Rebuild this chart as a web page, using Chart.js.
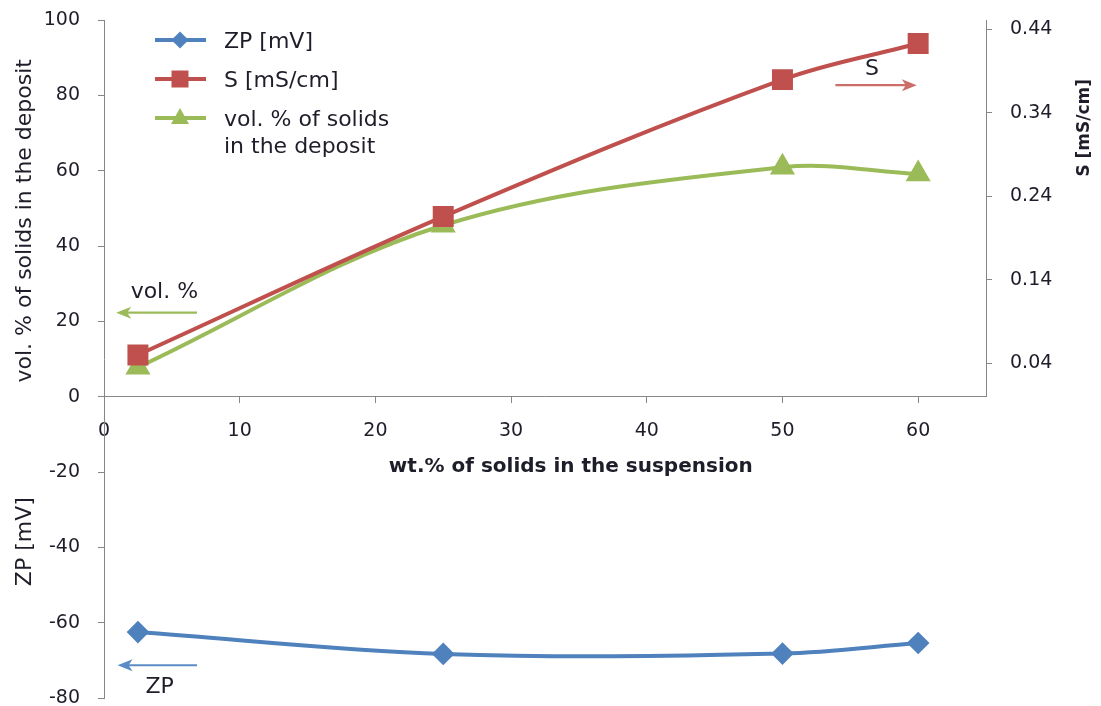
<!DOCTYPE html>
<html>
<head>
<meta charset="utf-8">
<script src="https://cdn.jsdelivr.net/npm/chart.js@4.4.0/dist/chart.umd.min.js"></script>
<style>
  html, body { margin: 0; padding: 0; background: #fff; }
  #wrap { width: 1101px; height: 706px; }
</style>
</head>
<body>
<div id="wrap"><canvas id="chart" width="1101" height="706"></canvas></div>
<script>
// wt.% of solids in the suspension
const wtPercent = [2.5, 25, 50, 60];
const zpValues = [-62.5, -68.3, -68.2, -65.4];        // ZP [mV], left axis
const sValues = [0.050, 0.2156, 0.3796, 0.4228];      // S [mS/cm], right axis
const volValues = [7.8, 45.5, 60.9, 59.1];            // vol. % of solids in the deposit

const xTicks = [0, 10, 20, 30, 40, 50, 60];
const leftTicks = [-80, -60, -40, -20, 0, 20, 40, 60, 80, 100];
const rightTicks = [0.04, 0.14, 0.24, 0.34, 0.44];

const BLUE = '#4f81bd';
const RED = '#c0504d';
const GREEN = '#9bbb59';
const AXIS = '#868686';
const TXT = '#1e1e2a';
const FONT = "'DejaVu Sans', 'Liberation Sans', sans-serif";

// arrow hints drawn in data units (x, left y)
const arrows = [
    { label: 'S', color: '#cd6d6a', from: [53.9, 82.7], to: [59.9, 82.7], text: [56.6, 86.8] },
    { label: 'vol. %', color: GREEN, from: [6.85, 22.3], to: [0.9, 22.3], text: [4.45, 27.7] },
    { label: 'ZP', color: '#5b8cc6', from: [6.85, -71.3], to: [1.0, -71.3], text: [4.1, -77.1] }
];

const legendItems = [
    { lines: ['ZP [mV]'], color: BLUE, shape: 'diamond' },
    { lines: ['S [mS/cm]'], color: RED, shape: 'square' },
    { lines: ['vol. % of solids', 'in the deposit'], color: GREEN, shape: 'triangle' }
];

function toPoints(xs, ys) {
    return xs.map((x, i) => ({ x: x, y: ys[i] }));
}

function drawMarker(ctx, shape, x, y, color) {
    ctx.fillStyle = color;
    ctx.beginPath();
    if (shape === 'diamond') {
        ctx.moveTo(x, y - 8.5); ctx.lineTo(x + 8.5, y); ctx.lineTo(x, y + 8.5); ctx.lineTo(x - 8.5, y);
    } else if (shape === 'square') {
        ctx.rect(x - 8.5, y - 8.5, 17, 17);
    } else {
        ctx.moveTo(x, y - 10); ctx.lineTo(x + 9, y + 6); ctx.lineTo(x - 9, y + 6);
    }
    ctx.closePath();
    ctx.fill();
}

function rotatedText(ctx, text, cx, cy) {
    ctx.save();
    ctx.translate(cx, cy);
    ctx.rotate(-Math.PI / 2);
    ctx.fillText(text, 0, 0);
    ctx.restore();
}

const overlay = {
    id: 'overlay',
    afterDraw(chart) {
        const { ctx, chartArea } = chart;
        const x = chart.scales.x, y = chart.scales.y, y2 = chart.scales.y2;
        ctx.save();

        // right axis line only from 0 up to the top
        const rx = Math.round(chartArea.right) + 0.5;
        ctx.strokeStyle = AXIS;
        ctx.lineWidth = 1;
        ctx.beginPath();
        ctx.moveTo(rx, Math.round(y2.getPixelForValue(0)));
        ctx.lineTo(rx, chartArea.top);
        ctx.stroke();

        // axis titles
        ctx.fillStyle = TXT;
        ctx.textAlign = 'center';
        ctx.textBaseline = 'middle';
        ctx.font = `22px ${FONT}`;
        rotatedText(ctx, 'vol. % of solids in the deposit', 25, y.getPixelForValue(46.7));
        rotatedText(ctx, 'ZP [mV]', 25, y.getPixelForValue(-38.5));
        ctx.font = `bold 17px ${FONT}`;
        rotatedText(ctx, 'S [mS/cm]', 1085, y2.getPixelForValue(0.322));
        ctx.font = `bold 20px ${FONT}`;
        ctx.fillText('wt.% of solids in the suspension', x.getPixelForValue(34.4), y.getPixelForValue(-18.6));

        // legend
        ctx.font = `22px ${FONT}`;
        ctx.textAlign = 'left';
        let ly = 40;
        legendItems.forEach(item => {
            ctx.strokeStyle = item.color;
            ctx.lineWidth = 4;
            ctx.beginPath();
            ctx.moveTo(155, ly);
            ctx.lineTo(206, ly);
            ctx.stroke();
            drawMarker(ctx, item.shape, 180, ly, item.color);
            ctx.fillStyle = TXT;
            item.lines.forEach((t, i) => ctx.fillText(t, 224, ly + 2 + i * 27));
            ly += 39;
        });

        // arrows
        arrows.forEach(a => {
            const x1 = x.getPixelForValue(a.from[0]), y1 = y.getPixelForValue(a.from[1]);
            const x2 = x.getPixelForValue(a.to[0]), y2p = y.getPixelForValue(a.to[1]);
            const dir = Math.sign(x2 - x1);
            ctx.strokeStyle = a.color;
            ctx.fillStyle = a.color;
            ctx.lineWidth = 2.2;
            ctx.beginPath();
            ctx.moveTo(x1, y1);
            ctx.lineTo(x2 - dir * 10, y2p);
            ctx.stroke();
            ctx.beginPath();
            ctx.moveTo(x2, y2p);
            ctx.lineTo(x2 - dir * 15, y2p - 6);
            ctx.lineTo(x2 - dir * 11, y2p);
            ctx.lineTo(x2 - dir * 15, y2p + 6);
            ctx.closePath();
            ctx.fill();
            ctx.fillStyle = TXT;
            ctx.textAlign = 'center';
            ctx.fillText(a.label, x.getPixelForValue(a.text[0]), y.getPixelForValue(a.text[1]));
        });

        ctx.restore();
    }
};

const tickFont = { family: FONT, size: 19 };

new Chart(document.getElementById('chart'), {
    type: 'line',
    data: {
        datasets: [
            {
                label: 'ZP [mV]',
                data: toPoints(wtPercent, zpValues),
                yAxisID: 'y',
                borderColor: BLUE,
                backgroundColor: BLUE,
                borderWidth: 4,
                pointStyle: 'rectRot',
                pointRadius: 8.5,
                tension: 0.35
            },
            {
                label: 'S [mS/cm]',
                data: toPoints(wtPercent, sValues),
                yAxisID: 'y2',
                borderColor: RED,
                backgroundColor: RED,
                borderWidth: 4,
                pointStyle: 'rect',
                pointRadius: 12,
                tension: 0.35
            },
            {
                label: 'vol. % of solids in the deposit',
                data: toPoints(wtPercent, volValues),
                yAxisID: 'y',
                borderColor: GREEN,
                backgroundColor: GREEN,
                borderWidth: 4,
                pointStyle: 'triangle',
                pointRadius: 10.5,
                tension: 0.35
            }
        ]
    },
    options: {
        responsive: false,
        animation: false,
        layout: { autoPadding: false, padding: { top: 20, bottom: 8, left: 0, right: 0 } },
        plugins: { legend: { display: false }, tooltip: { enabled: false } },
        scales: {
            x: {
                type: 'linear',
                position: { y: 0 },
                min: 0,
                max: 65,
                afterBuildTicks: s => { s.ticks = xTicks.map(v => ({ value: v })); },
                grid: { drawOnChartArea: false, tickLength: 6, color: AXIS },
                border: { color: AXIS },
                ticks: { font: tickFont, color: TXT, padding: 17, maxRotation: 0 }
            },
            y: {
                position: 'left',
                min: -80,
                max: 100,
                afterBuildTicks: s => { s.ticks = leftTicks.map(v => ({ value: v })); },
                afterFit: s => { s.width = 104; s.paddingTop = 0; s.paddingBottom = 0; },
                grid: { drawOnChartArea: false, tickLength: 6, color: AXIS },
                border: { color: AXIS },
                ticks: { font: tickFont, color: TXT, padding: 18 }
            },
            y2: {
                position: 'right',
                min: -0.3608,
                max: 0.451,
                afterBuildTicks: s => { s.ticks = rightTicks.map(v => ({ value: v })); },
                afterFit: s => { s.width = 115; s.paddingTop = 0; s.paddingBottom = 0; },
                grid: { drawOnChartArea: false, tickLength: 6, color: AXIS },
                border: { display: false },
                ticks: { font: tickFont, color: TXT, padding: 18, callback: v => v.toFixed(2) }
            }
        }
    },
    plugins: [overlay]
});
</script>
</body>
</html>
